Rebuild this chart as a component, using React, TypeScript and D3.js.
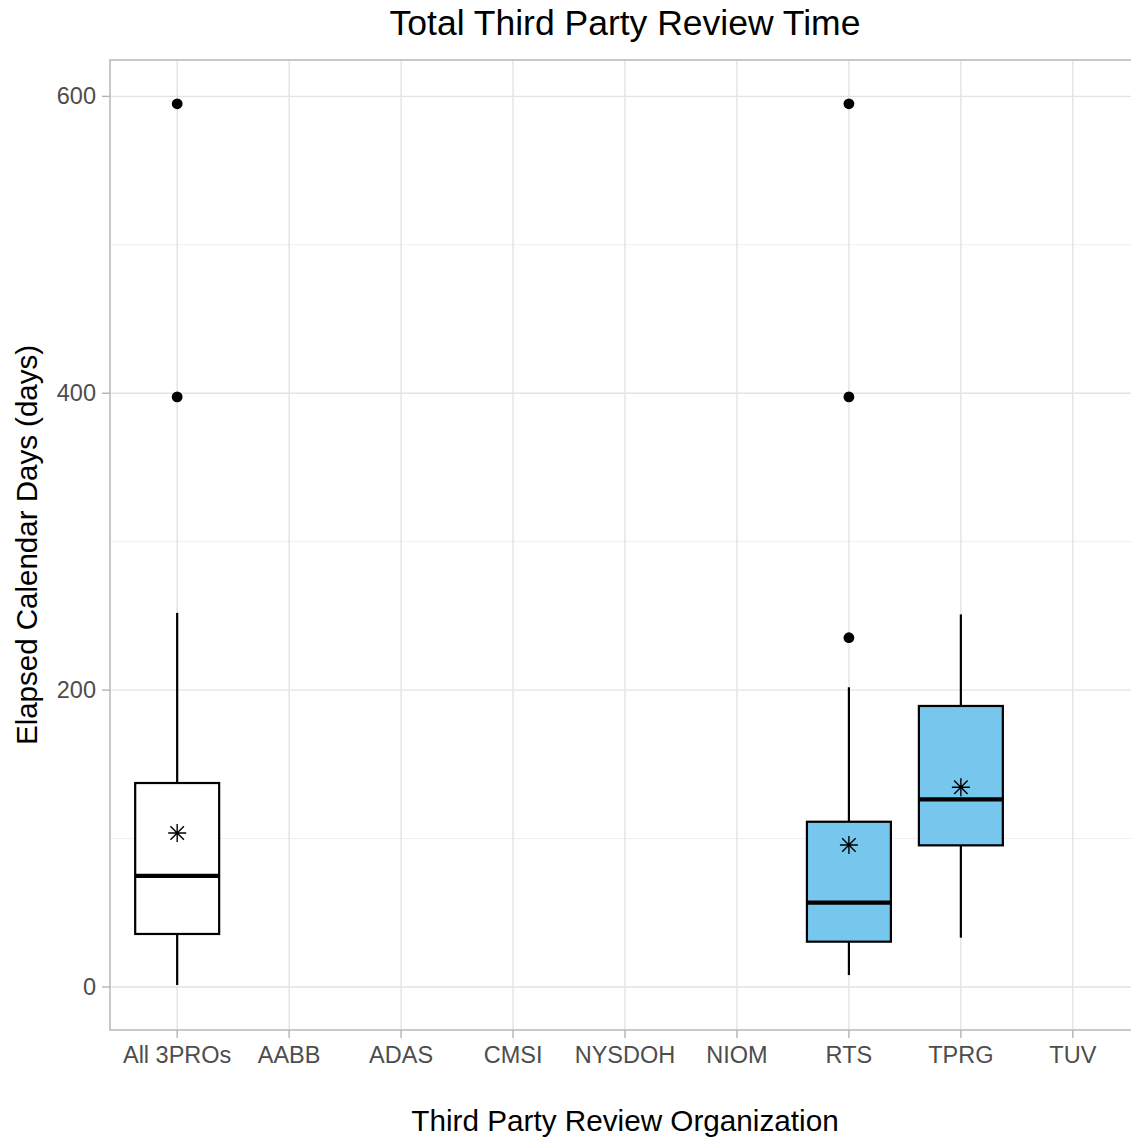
import React from "react";
import * as d3 from "d3";

const categories = ["All 3PROs", "AABB", "ADAS", "CMSI", "NYSDOH", "NIOM", "RTS", "TPRG", "TUV"];
const boxCategories = ["All 3PROs", "RTS", "TPRG"];
const whiskerLow = [1.3, 8, 33.2];
const q1 = [35.7, 30.5, 95.4];
const medians = [74.8, 56.8, 126.4];
const q3 = [137.4, 111.3, 189.3];
const whiskerHigh = [252, 201.9, 251];
const means = [103.7, 95.6, 134.5];
const boxFills = ["#FFFFFF", "#76C6EE", "#76C6EE"];
const outlierCats = ["All 3PROs", "All 3PROs", "RTS", "RTS", "RTS"];
const outlierValues = [595, 397.5, 595, 397.5, 235.3];
const yTicks = [0, 200, 400, 600];
const yMinorTicks = [100, 300, 500];

const W = 1131;
const H = 1140;
const panel = { left: 110, right: 1140, top: 60, bottom: 1030 };
const FONT = "'Liberation Sans', Arial, Helvetica, sans-serif";

export default function App() {
  const x = d3.scalePoint<string>().domain(categories).range([panel.left, panel.right]).padding(0.6);
  const y = d3.scaleLinear().domain([-29, 624.5]).range([panel.bottom, panel.top]);
  const step = x.step();
  const boxW = step * 0.75;

  const star = (cx: number, cy: number, r: number) => {
    const d = r * 0.75;
    return `M${cx - r},${cy}L${cx + r},${cy}M${cx},${cy - r}L${cx},${cy + r}M${cx - d},${cy - d}L${cx + d},${cy + d}M${cx - d},${cy + d}L${cx + d},${cy - d}`;
  };

  return (
    <svg width={W} height={H} style={{ position: "absolute", left: 0, top: 0, background: "#fff" }} fontFamily={FONT}>
      <rect x={0} y={0} width={W} height={H} fill="#fff" />
      {/* minor grid */}
      {yMinorTicks.map((t) => (
        <line key={"mn" + t} x1={panel.left} x2={panel.right} y1={y(t)} y2={y(t)} stroke="#EDEDED" strokeWidth={0.9} />
      ))}
      {/* major grid */}
      {yTicks.map((t) => (
        <line key={"mj" + t} x1={panel.left} x2={panel.right} y1={y(t)} y2={y(t)} stroke="#E3E3E3" strokeWidth={1.4} />
      ))}
      {categories.map((c) => (
        <line key={"vg" + c} x1={x(c)} x2={x(c)} y1={panel.top} y2={panel.bottom} stroke="#E3E3E3" strokeWidth={1.4} />
      ))}
      {/* boxes */}
      {boxCategories.map((c, i) => {
        const cx = x(c)!;
        return (
          <g key={"box" + c}>
            <line x1={cx} x2={cx} y1={y(whiskerHigh[i])} y2={y(q3[i])} stroke="#000" strokeWidth={2.2} />
            <line x1={cx} x2={cx} y1={y(q1[i])} y2={y(whiskerLow[i])} stroke="#000" strokeWidth={2.2} />
            <rect
              x={cx - boxW / 2}
              y={y(q3[i])}
              width={boxW}
              height={y(q1[i]) - y(q3[i])}
              fill={boxFills[i]}
              stroke="#000"
              strokeWidth={2.2}
            />
            <line x1={cx - boxW / 2} x2={cx + boxW / 2} y1={y(medians[i])} y2={y(medians[i])} stroke="#000" strokeWidth={4.2} />
            <path d={star(cx, y(means[i]), 9)} stroke="#000" strokeWidth={1.4} fill="none" />
          </g>
        );
      })}
      {outlierValues.map((v, i) => (
        <circle key={"o" + i} cx={x(outlierCats[i])} cy={y(v)} r={5.4} fill="#000" />
      ))}
      {/* panel border */}
      <rect
        x={panel.left}
        y={panel.top}
        width={panel.right - panel.left}
        height={panel.bottom - panel.top}
        fill="none"
        stroke="#C4C4C4"
        strokeWidth={1.8}
      />
      {/* y axis ticks */}
      {yTicks.map((t) => (
        <g key={"yt" + t}>
          <line x1={panel.left - 8} x2={panel.left} y1={y(t)} y2={y(t)} stroke="#B3B3B3" strokeWidth={1.4} />
          <text x={panel.left - 14} y={y(t) + 8} textAnchor="end" fontSize={23.5} fill="#4D4D4D">
            {t}
          </text>
        </g>
      ))}
      {/* x axis ticks */}
      {categories.map((c) => (
        <g key={"xt" + c}>
          <line x1={x(c)} x2={x(c)} y1={panel.bottom} y2={panel.bottom + 8} stroke="#B3B3B3" strokeWidth={1.4} />
          <text x={x(c)} y={panel.bottom + 33} textAnchor="middle" fontSize={23.5} fill="#4D4D4D">
            {c}
          </text>
        </g>
      ))}
      {/* titles */}
      <text x={(panel.left + panel.right) / 2} y={35} textAnchor="middle" fontSize={35.5} fill="#000">
        Total Third Party Review Time
      </text>
      <text x={(panel.left + panel.right) / 2} y={1131} textAnchor="middle" fontSize={29.7} fill="#000">
        Third Party Review Organization
      </text>
      <text
        transform={`translate(37,${(panel.top + panel.bottom) / 2}) rotate(-90)`}
        textAnchor="middle"
        fontSize={29.5}
        fill="#000"
      >
        Elapsed Calendar Days (days)
      </text>
    </svg>
  );
}
